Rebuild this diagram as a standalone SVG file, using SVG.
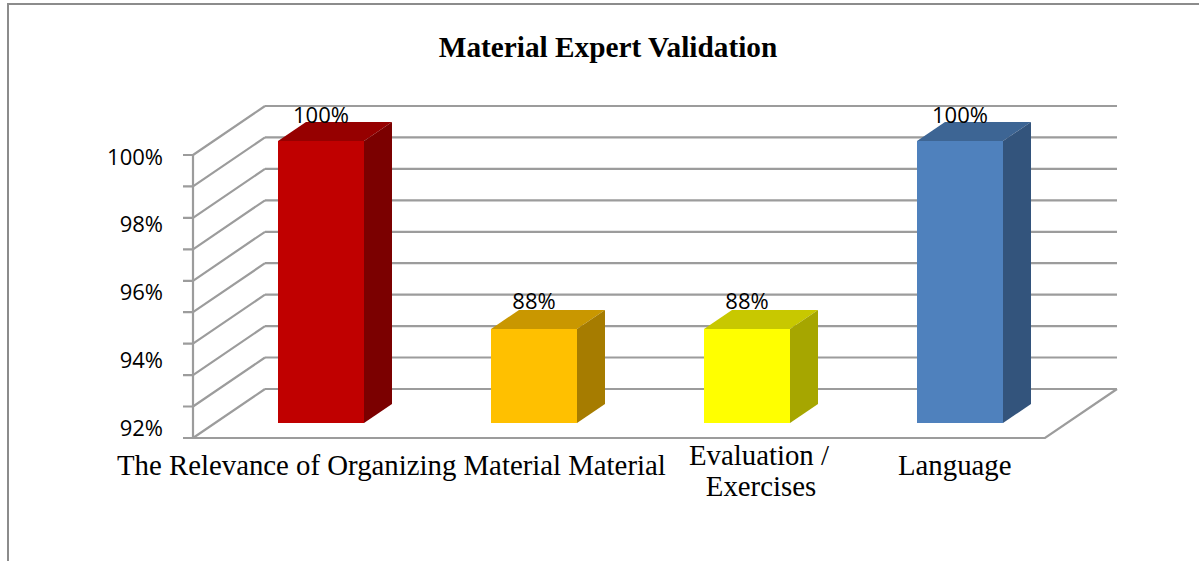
<svg xmlns="http://www.w3.org/2000/svg" width="1199" height="561" viewBox="0 0 1199 561">
  <style>
    .grid { stroke: #9c9c9c; stroke-width: 2.2; fill: none; }
    .frame { stroke: #8c8c8c; stroke-width: 2; fill: none; }
    .ylab { font-family: "Open Sans", "Liberation Sans", sans-serif; font-size: 22px; fill: #000; text-anchor: end; }
    .dlab { font-family: "Open Sans", "Liberation Sans", sans-serif; font-size: 22px; fill: #000; text-anchor: middle; }
    .cat { font-family: "Liberation Serif", "Times New Roman", serif; font-size: 28.8px; fill: #000; }
    .title { font-family: "Liberation Serif", "Times New Roman", serif; font-size: 29.3px; font-weight: bold; fill: #000; text-anchor: middle; }
  </style>
  <rect x="0" y="0" width="1199" height="561" fill="#ffffff"/>
  <path id="frame" class="frame" d="M8,561 V4 H1199"/>
  <text id="title" class="title" x="608" y="57">Material Expert Validation</text>

  <g id="axes">
    <g id="back-wall">
      <path class="grid" d="M265,106 H1117 M265,137.4 H1117 M265,168.9 H1117 M265,200.3 H1117 M265,231.8 H1117 M265,263.2 H1117 M265,294.6 H1117 M265,326.1 H1117 M265,357.5 H1117 M265,389 H1117"/>
    </g>
    <g id="side-wall">
      <path class="grid" d="M193,155 L265,106 M193,186.4 L265,137.4 M193,217.9 L265,168.9 M193,249.3 L265,200.3 M193,280.8 L265,231.8 M193,312.2 L265,263.2 M193,343.6 L265,294.6 M193,375.1 L265,326.1 M193,406.5 L265,357.5 M193,438 L265,389"/>
    </g>
    <g id="floor">
      <path class="grid" d="M193,438 H1045 L1117,389"/>
    </g>
    <g id="y-axis">
      <path class="grid" d="M193,155 V438"/>
      <path class="grid" d="M183,155 H193 M183,186.4 H193 M183,217.9 H193 M183,249.3 H193 M183,280.8 H193 M183,312.2 H193 M183,343.6 H193 M183,375.1 H193 M183,406.5 H193 M183,438 H193"/>
      <text class="ylab" x="163" y="165">100%</text>
      <text class="ylab" x="163" y="232">98%</text>
      <text class="ylab" x="163" y="300">96%</text>
      <text class="ylab" x="163" y="368">94%</text>
      <text class="ylab" x="163" y="436">92%</text>
    </g>
  </g>

  <g id="bar-relevance">
    <rect x="278" y="141" width="86" height="282" fill="#C00000"/>
    <polygon points="278,141 364,141 392,122 306,122" fill="#960000"/>
    <polygon points="364,141 392,122 392,404 364,423" fill="#7B0000"/>
    <text class="dlab" x="321" y="123">100%</text>
  </g>
  <g id="bar-material">
    <rect x="491" y="329" width="86" height="94" fill="#FFC000"/>
    <polygon points="491,329 577,329 605,310 519,310" fill="#C99700"/>
    <polygon points="577,329 605,310 605,404 577,423" fill="#A67C00"/>
    <text class="dlab" x="534" y="309">88%</text>
  </g>
  <g id="bar-evaluation">
    <rect x="704" y="329" width="86" height="94" fill="#FFFF00"/>
    <polygon points="704,329 790,329 818,310 732,310" fill="#C8C800"/>
    <polygon points="790,329 818,310 818,404 790,423" fill="#A6A600"/>
    <text class="dlab" x="747" y="309">88%</text>
  </g>
  <g id="bar-language">
    <rect x="917" y="141" width="86" height="282" fill="#4F81BD"/>
    <polygon points="917,141 1003,141 1031,122 945,122" fill="#3D6594"/>
    <polygon points="1003,141 1031,122 1031,404 1003,423" fill="#33547C"/>
    <text class="dlab" x="960" y="123">100%</text>
  </g>

  <g id="categories">
    <text class="cat" x="117" y="475">The Relevance of Organizing Material Material</text>
    <text class="cat" x="759" y="465" text-anchor="middle">Evaluation /</text>
    <text class="cat" x="761" y="496" text-anchor="middle">Exercises</text>
    <text class="cat" x="898" y="475">Language</text>
  </g>
</svg>
